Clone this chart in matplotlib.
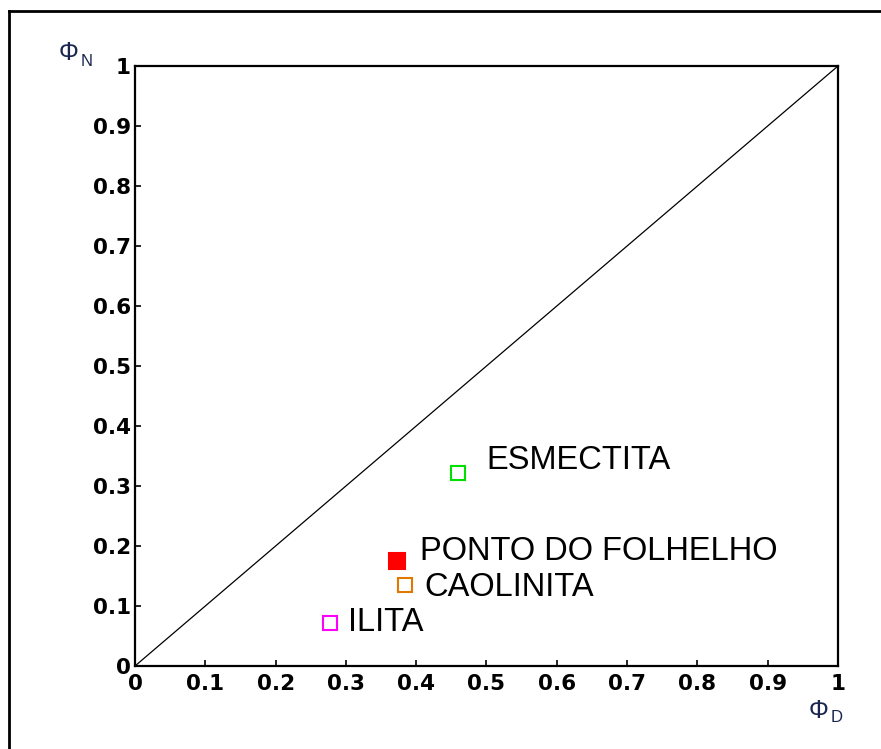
import matplotlib.pyplot as plt
from matplotlib.lines import Line2D

# minerals and the shale point (phi_D, phi_N)
names = ["ESMECTITA", "PONTO DO FOLHELHO", "CAOLINITA", "ILITA"]
phi_d = [0.46, 0.373, 0.384, 0.277]
phi_n = [0.322, 0.175, 0.135, 0.072]
colors = ["#00e000", "#ff0000", "#e07800", "#ff00ff"]
filled = [False, True, False, False]

ticks = [0, 0.1, 0.2, 0.3, 0.4, 0.5, 0.6, 0.7, 0.8, 0.9, 1]
tick_labels = ["0", "0.1", "0.2", "0.3", "0.4", "0.5", "0.6", "0.7", "0.8", "0.9", "1"]
diag = [0, 1]

# label offsets in pixels (dx, dy)
label_off = [(28, 12), (23, 10), (19, -2), (18, 0)]

W, H = 881, 749
fig = plt.figure(figsize=(W / 100, H / 100), dpi=100)
ax = fig.add_axes([135 / W, (H - 666) / H, 703 / W, 600 / H])

ax.plot(diag, diag, color="black", lw=0.9)

for x, y, c, f in zip(phi_d, phi_n, colors, filled):
    ax.plot(x, y, marker="s", ms=11 if f else 10, mew=1.5,
            mec=c, mfc=c if f else "white", ls="none", zorder=3)

for x, y, n, (dx, dy) in zip(phi_d, phi_n, names, label_off):
    ax.annotate(n, (x, y), xytext=(dx * 0.72, dy * 0.72), textcoords="offset points",
                ha="left", va="center", fontsize=23.5, family="Liberation Sans",
                color="black")

ax.set_xlim(0, 1)
ax.set_ylim(0, 1)
ax.set_xticks(ticks)
ax.set_yticks(ticks)
ax.set_xticklabels(tick_labels)
ax.set_yticklabels(tick_labels)
for lab in ax.get_xticklabels() + ax.get_yticklabels():
    lab.set_fontweight("bold")
    lab.set_fontsize(15.5)
    lab.set_family("DejaVu Sans")
ax.tick_params(direction="in", length=4, width=1.2)
ax.tick_params(axis="x", pad=6)
ax.tick_params(axis="y", pad=3)
for s in ax.spines.values():
    s.set_linewidth(1.6)

# axis labels
lab_color = "#1a2550"
fig.text(59 / W, 1 - 53 / H, "Φ", fontsize=18, family="Liberation Sans",
         color=lab_color, ha="left", va="center")
fig.text(81 / W, 1 - 61 / H, "N", fontsize=12, family="Liberation Sans",
         color=lab_color, ha="left", va="center")
fig.text(809 / W, 1 - 711 / H, "Φ", fontsize=18, family="Liberation Sans",
         color=lab_color, ha="left", va="center")
fig.text(831 / W, 1 - 718 / H, "D", fontsize=12, family="Liberation Sans",
         color=lab_color, ha="left", va="center")

# outer frame (left and top edges visible)
fig.add_artist(Line2D([9 / W, 9 / W], [0, 1 - 11 / H], transform=fig.transFigure,
                      color="black", lw=2))
fig.add_artist(Line2D([9 / W, 1], [1 - 11 / H, 1 - 11 / H], transform=fig.transFigure,
                      color="black", lw=2))

fig.savefig("out.png", dpi=100)
